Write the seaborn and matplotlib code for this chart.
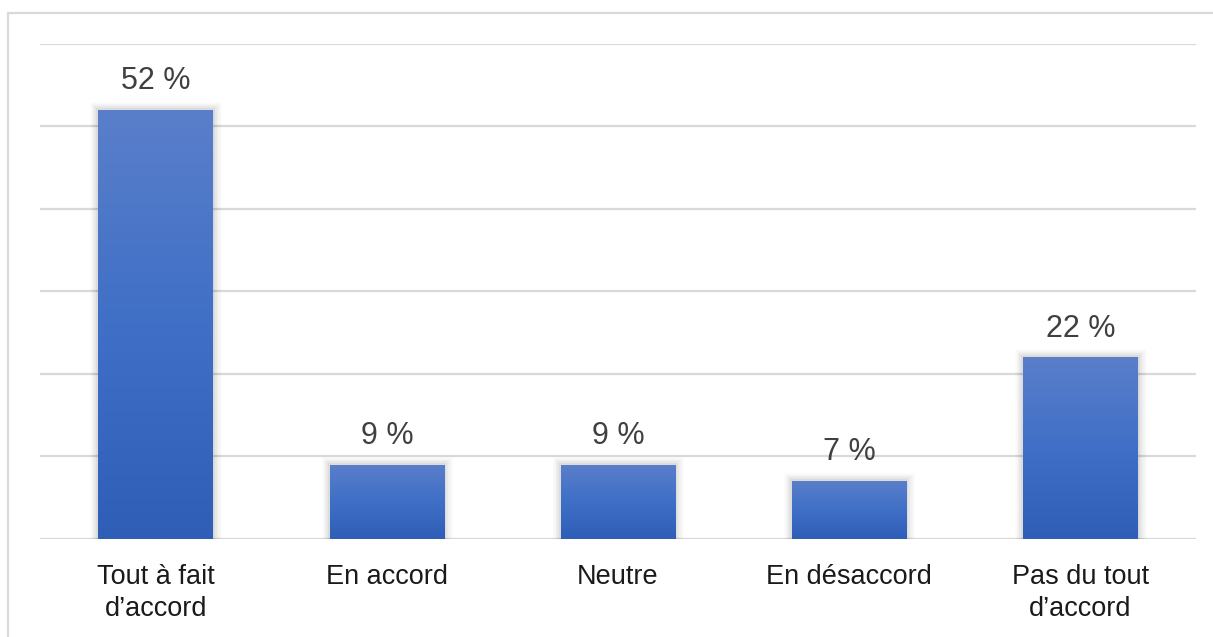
import numpy as np
import pandas as pd
import seaborn as sns
import matplotlib.pyplot as plt
import matplotlib.patheffects as pe
from matplotlib.colors import LinearSegmentedColormap
from matplotlib.lines import Line2D

categories = ["Tout à fait\nd\u2019accord", "En accord", "Neutre", "En désaccord", "Pas du tout\nd\u2019accord"]
values = [52, 9, 9, 7, 22]
value_labels = ["52 %", "9 %", "9 %", "7 %", "22 %"]

df = pd.DataFrame({'category': categories, 'value': values})

sns.set_theme(style="white")
plt.rcParams['font.family'] = ['Liberation Sans', 'DejaVu Sans']

fig, ax = plt.subplots(figsize=(12.13, 6.37), dpi=100)
fig.subplots_adjust(left=0.033, right=0.986, top=0.931, bottom=0.154)

sns.barplot(data=df, x='category', y='value', color='#3f6fc6', width=0.495,
            saturation=1, ax=ax, zorder=2)

# gradient fill + soft shadow on each bar
grad_cmap = LinearSegmentedColormap.from_list('bar', ['#2f5eb7', '#3f6fc6', '#5a7fca'])
grad = np.linspace(0, 1, 256).reshape(-1, 1)
for bar in ax.patches:
    bar.set_edgecolor('none')
    bar.set_linewidth(0)
    bar.set_path_effects([
        pe.Stroke(linewidth=12, foreground='#000000', alpha=0.02),
        pe.Stroke(linewidth=9, foreground='#000000', alpha=0.03),
        pe.Stroke(linewidth=6, foreground='#000000', alpha=0.04),
        pe.Stroke(linewidth=3, foreground='#000000', alpha=0.05),
        pe.Normal(),
    ])
    x0, y0 = bar.get_x(), bar.get_y()
    x1, y1 = x0 + bar.get_width(), y0 + bar.get_height()
    im = ax.imshow(grad, extent=[x0, x1, y0, y1], origin='lower', aspect='auto',
                   cmap=grad_cmap, zorder=3)
    im.set_clip_path(bar)

ax.bar_label(ax.containers[0], labels=value_labels, padding=10,
             fontsize=22, color='#404040')

ax.set_xlim(-0.5, len(categories) - 0.5)
ax.set_ylim(0, 60)
ax.set_yticks(range(0, 70, 10))
ax.set_yticklabels([])
ax.yaxis.grid(True, color='#d9d9d9', linewidth=1.6)
ax.set_axisbelow(True)
ax.set_xlabel('')
ax.set_ylabel('')
sns.despine(ax=ax, left=True, bottom=True)
ax.tick_params(axis='x', length=0, pad=18, labelsize=19.5, labelcolor='#1a1a1a')
ax.tick_params(axis='y', length=0)
for lbl in ax.get_xticklabels():
    lbl.set_linespacing(1.3)

# outer chart frame (top and left edges only visible)
fig.add_artist(Line2D([0.0066, 1.0], [0.9796, 0.9796], transform=fig.transFigure,
                      color='#d9d9d9', linewidth=1.6))
fig.add_artist(Line2D([0.0066, 0.0066], [0.0, 0.9796], transform=fig.transFigure,
                      color='#d9d9d9', linewidth=1.6))

plt.savefig('out.png', dpi=100)
